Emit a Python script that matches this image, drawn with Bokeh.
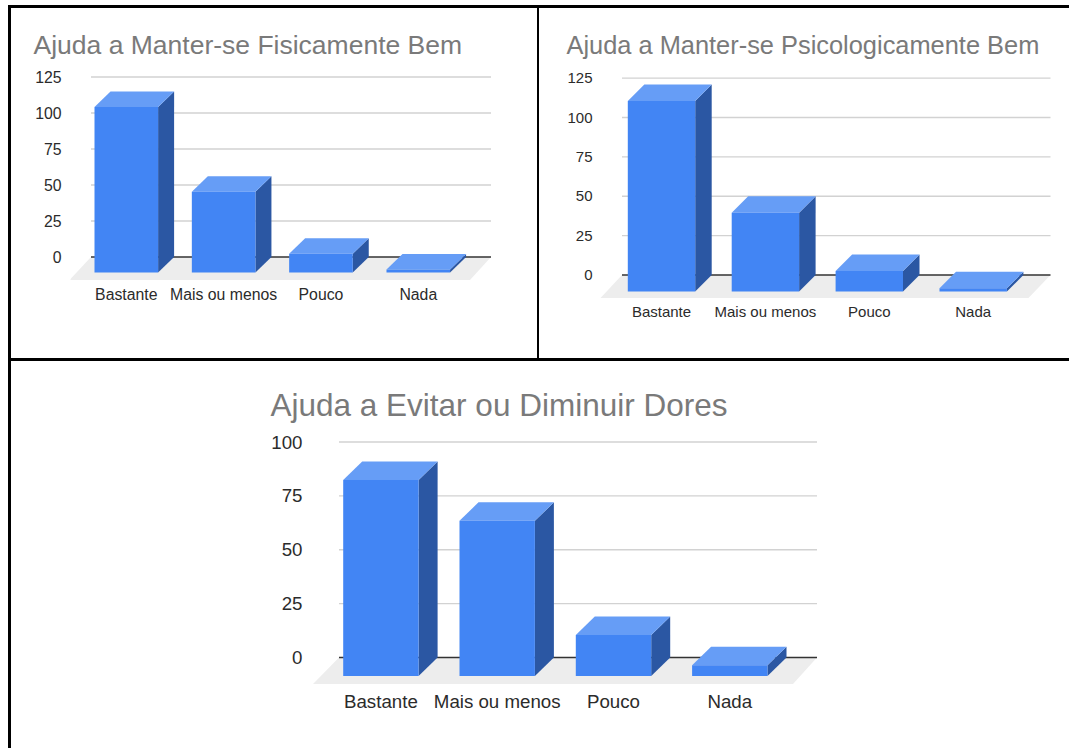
from bokeh.embed import file_html
from bokeh.layouts import column, row
from bokeh.models import FixedTicker, Range1d, Spacer
from bokeh.plotting import figure
from bokeh.resources import INLINE

categories = ["Bastante", "Mais ou menos", "Pouco", "Nada"]

title_fisico = "Ajuda a Manter-se Fisicamente Bem"
title_psico = "Ajuda a Manter-se Psicologicamente Bem"
title_dores = "Ajuda a Evitar ou Diminuir Dores"

values_fisico = [115, 56, 13, 2]
values_psico = [121, 50, 13, 2]
values_dores = [91, 72, 19, 5]

ticks_fisico = [0, 25, 50, 75, 100, 125]
ticks_psico = [0, 25, 50, 75, 100, 125]
ticks_dores = [0, 25, 50, 75, 100]

FRONT = "#4285F4"
SIDE = "#2B57A3"
TOP = "#669DF6"
FLOOR = "#EDEDED"
GRID = "#D2D2D2"
BASELINE = "#333333"
LABEL = "#2B2B2B"
TITLE = "#7A7A7A"


def chart(title, values, ticks, box, geo):
    """Draw one pseudo-3D column chart; box and geo hold page-pixel layout."""
    left, top, width, height = box
    fl, fr, ft, fb = geo["frame"]
    c0, pitch, half = geo["first"], geo["pitch"], geo["half"]
    zero, scale = geo["zero"], geo["scale"]
    dxp, dyp = geo["depth"]

    p = figure(
        width=width, height=height, output_backend="svg", toolbar_location=None,
        min_border_left=fl - left, min_border_right=left + width - fr,
        min_border_top=ft - top, min_border_bottom=top + height - fb,
        x_range=Range1d((fl - c0) / pitch, (fr - c0) / pitch),
        y_range=Range1d((zero - fb) / scale, (zero - ft) / scale),
        outline_line_color=None, background_fill_color="white",
        frame_align=False,
    )
    p.grid.visible = False

    dx, dy = dxp / pitch, dyp / scale
    hw = half / pitch
    gx0, gx1 = [(g - c0) / pitch for g in geo["grid"]]
    fx0, fx1 = [(g - c0) / pitch for g in geo["floor"]]
    fy = -geo["floor_drop"] / scale

    # floor under the columns
    p.patch([fx0, fx1, gx1, gx0], [fy, fy, 0, 0], fill_color=FLOOR, line_color=None)

    # horizontal rules, with a darker one at zero
    rules = [t for t in ticks if t != 0]
    p.segment([gx0] * len(rules), rules, [gx1] * len(rules), rules, line_color=GRID, line_width=1.4)
    p.segment([gx0], [0], [gx1], [0], line_color=BASELINE, line_width=1.4)

    for i, v in enumerate(values):
        x0, x1 = i - hw, i + hw
        p.patch([x1, x1 + dx, x1 + dx, x1], [-dy, 0, v, v - dy], fill_color=SIDE, line_color=None)
        p.patch([x0, x1, x1 + dx, x0 + dx], [v - dy, v - dy, v, v], fill_color=TOP, line_color=None)
        p.patch([x0, x1, x1, x0], [-dy, -dy, v - dy, v - dy], fill_color=FRONT, line_color=None)

    p.title.text = title
    p.title.text_font = "Liberation Sans"
    p.title.text_font_size = geo["title_size"]
    p.title.text_font_style = "normal"
    p.title.text_color = TITLE
    p.title.align = "left"
    p.title.offset = geo["title_x"] - fl
    p.title.standoff = geo["title_standoff"]

    for ax in (p.xaxis[0], p.yaxis[0]):
        ax.axis_line_color = None
        ax.major_tick_line_color = None
        ax.minor_tick_line_color = None
        ax.major_tick_out = 0
        ax.major_tick_in = 0
        ax.minor_tick_out = 0
        ax.minor_tick_in = 0
        ax.major_label_text_font = "Liberation Sans"
        ax.major_label_text_font_size = geo["label_size"]
        ax.major_label_text_color = LABEL

    p.yaxis[0].ticker = FixedTicker(ticks=ticks)
    p.yaxis[0].major_label_standoff = geo["y_standoff"]
    p.xaxis[0].ticker = FixedTicker(ticks=list(range(len(categories))))
    p.xaxis[0].major_label_overrides = {i: c for i, c in enumerate(categories)}
    p.xaxis[0].major_label_standoff = geo["x_standoff"]
    return p


p1 = chart(
    title_fisico, values_fisico, ticks_fisico, (11, 8, 526, 350),
    dict(frame=(70, 500, 60, 281), first=125.8, pitch=97.33, half=31.8, zero=256.5, scale=1.44,
         depth=(16, 15.5), grid=(90.5, 490.5), floor=(69, 469.5), floor_drop=23,
         title_size="26.5px", title_x=33, title_standoff=2, label_size="15.8px",
         y_standoff=9, x_standoff=4),
)
p2 = chart(
    title_psico, values_psico, ticks_psico, (539, 8, 530, 350),
    dict(frame=(599, 1060, 60, 299), first=661, pitch=103.9, half=33.7, zero=274.5, scale=1.575,
         depth=(16.5, 16.5), grid=(621.5, 1050), floor=(600, 1028), floor_drop=23,
         title_size="25.4px", title_x=566, title_standoff=4, label_size="15px",
         y_standoff=7, x_standoff=3),
)
p3 = chart(
    title_dores, values_dores, ticks_dores, (11, 361, 1058, 387),
    dict(frame=(312, 830, 430, 686), first=380.4, pitch=116.3, half=37.7, zero=657, scale=2.155,
         depth=(19, 18.5), grid=(338.5, 816.5), floor=(312.5, 792.5), floor_drop=26.5,
         title_size="31.5px", title_x=270, title_standoff=15, label_size="18.7px",
         y_standoff=10, x_standoff=4),
)


def rule(w, h):
    return Spacer(width=w, height=h, styles={"background-color": "black"})


panels = column(
    rule(1061, 3),
    row(rule(3, 350), p1, rule(2, 350), p2, spacing=0),
    rule(1061, 3),
    row(rule(3, 387), p3, spacing=0),
    spacing=0,
)
page = column(
    Spacer(width=1069, height=5),
    row(Spacer(width=8, height=743), panels, spacing=0),
    spacing=0,
)

open("out.html", "w").write(file_html(page, INLINE))
